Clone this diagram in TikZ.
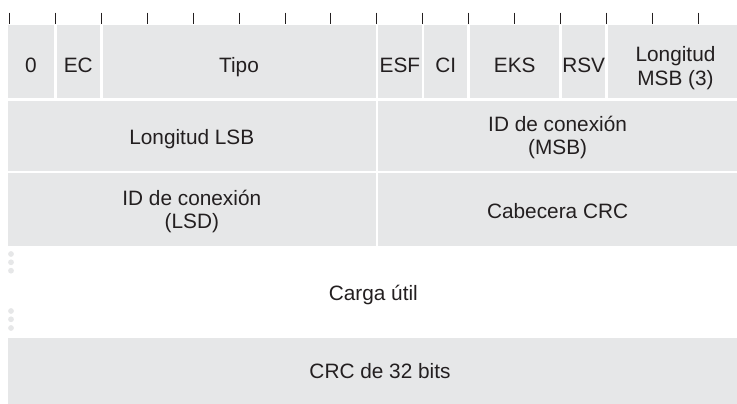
\documentclass[tikz,border=0pt]{standalone}
\usepackage{fontspec}
\setmainfont{Liberation Sans}
\definecolor{boxgray}{HTML}{E6E7E8}
\definecolor{ink}{HTML}{231F20}
\begin{document}
\begin{tikzpicture}[x=1pt,y=-1pt,
  cell/.style={fill=boxgray, draw=none, inner sep=0pt, outer sep=0pt, anchor=north west},
  lbl/.style={text=ink, inner sep=0pt, outer sep=0pt, font=\fontsize{20.8}{23.3}\selectfont, align=center, anchor=base},
  tickmark/.style={draw=ink, line width=1pt},
  dotmark/.style={circle, fill=boxgray, draw=none, inner sep=0pt, minimum size=5.8pt}]
\useasboundingbox (0,0) rectangle (737,404);
\clip (0,0) rectangle (737,404);
% ticks
\foreach \i in {0,...,15}{
  \draw[tickmark] ({9.3+45.95*\i},12.7) -- ({9.3+45.95*\i},24);
}
% row 1
\node[cell, minimum width=45.9pt,  minimum height=73.5pt] (c0)   at (8,25) {};
\node[cell, minimum width=43.25pt, minimum height=73.5pt] (cEC)  at (56.6,25) {};
\node[cell, minimum width=273pt,   minimum height=73.5pt] (cTipo) at (102.55,25) {};
\node[cell, minimum width=43.25pt, minimum height=73.5pt] (cESF) at (378.25,25) {};
\node[cell, minimum width=43.25pt, minimum height=73.5pt] (cCI)  at (424.2,25) {};
\node[cell, minimum width=89.2pt,  minimum height=73.5pt] (cEKS) at (470.15,25) {};
\node[cell, minimum width=43.25pt, minimum height=73.5pt] (cRSV) at (562.05,25) {};
\node[cell, minimum width=140pt,   minimum height=73.5pt] (cLen) at (608,25) {};
% row 2
\node[cell, minimum width=367.55pt, minimum height=69.6pt] (cLSB) at (8,101.2) {};
\node[cell, minimum width=370pt,    minimum height=69.6pt] (cIDM) at (378.25,101.2) {};
% row 3
\node[cell, minimum width=367.55pt, minimum height=72.6pt] (cIDL) at (8,173.4) {};
\node[cell, minimum width=370pt,    minimum height=72.6pt] (cHCRC) at (378.25,173.4) {};
% CRC row
\node[cell, minimum width=740pt, minimum height=80pt] (cCRC) at (8,337.7) {};
% dots
\foreach \y [count=\k] in {254,262.3,270.7,311,319.3,328}{
  \node[dotmark] (d\k) at (11,\y) {};
}
% labels
\node[lbl] (t0)   at (31,72.7) {0};
\node[lbl] (tEC)  at (78.2,72.7) {EC};
\node[lbl] (tTipo) at (239,72.7) {Tipo};
\node[lbl] (tESF) at (399.9,72.7) {ESF};
\node[lbl] (tCI)  at (445.8,72.7) {CI};
\node[lbl] (tEKS) at (514.75,72.7) {EKS};
\node[lbl] (tRSV) at (583.7,72.7) {RSV};
\node[lbl] (tLen) at (675.5,85) {Longitud\\MSB (3)};
\node[lbl] (tLSB) at (191.8,144.5) {Longitud LSB};
\node[lbl] (tIDM) at (557.6,154.6) {ID de conexión\\(MSB)};
\node[lbl] (tIDL) at (191.8,228.3) {ID de conexión\\(LSD)};
\node[lbl] (tHCRC) at (557.6,218) {Cabecera CRC};
\node[lbl] (tPay) at (373.3,300) {Carga útil};
\node[lbl] (tCRC) at (380,378.3) {CRC de 32 bits};
\end{tikzpicture}
\end{document}
